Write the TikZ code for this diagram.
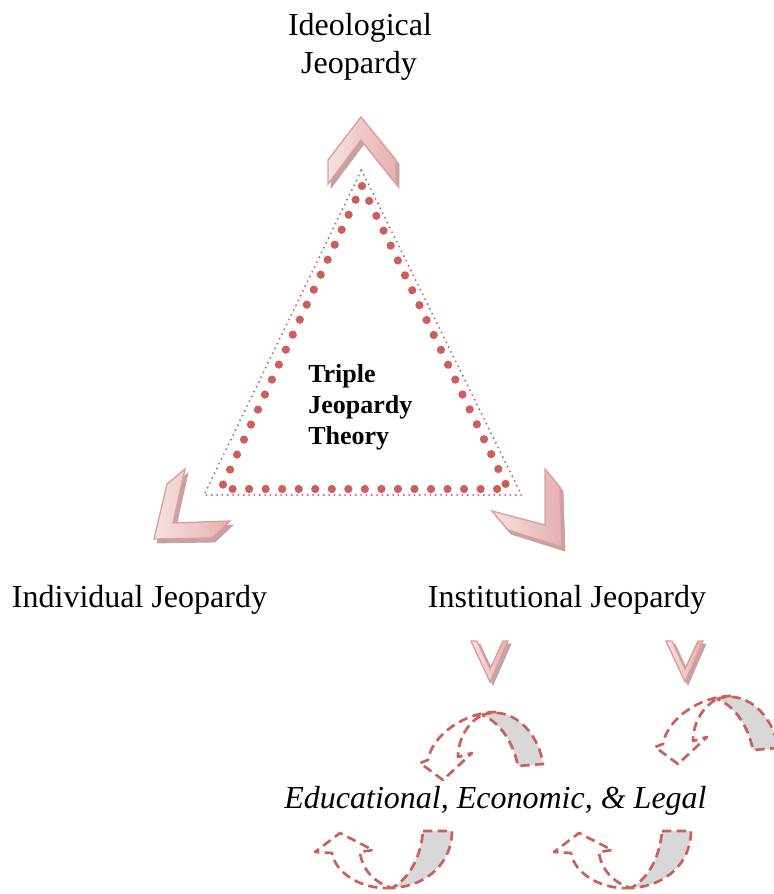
\documentclass[tikz,border=0pt]{standalone}
\usepackage{fontspec}
\setmainfont{Liberation Serif}
\definecolor{dotred}{HTML}{CD5F5B}
\definecolor{chevline}{HTML}{DC9E9C}
\definecolor{chevshadow}{HTML}{C4A3A2}
\definecolor{chevlight}{HTML}{F6E2E2}
\definecolor{chevdark}{HTML}{E6B0AF}
\definecolor{bandgray}{HTML}{D8D8D8}
\begin{document}
\begin{tikzpicture}[x=0.75pt,y=-0.75pt,
  lbl/.style={font=\fontsize{24}{28}\selectfont, inner sep=0pt, anchor=base},
  theory/.style={font=\bfseries\fontsize{19.5}{23}\selectfont, inner sep=0pt, anchor=base west},
  outerdots/.style={draw=dotred, line width=1.6pt, dash pattern=on 0pt off 4pt, line cap=round},
  bigdots/.style={draw=dotred, line width=6.2pt, dash pattern=on 0pt off 12.4pt, line cap=round},
  chevfront/.style={draw=chevline, line width=1pt, line join=miter, left color=chevlight, right color=chevdark},
  chevshade/.style={fill=chevshadow, draw=chevshadow, line width=0.6pt},
  band/.style={fill=bandgray, draw=dotred, line width=2pt, dash pattern=on 7pt off 4pt, line join=round},
  curvdash/.style={draw=dotred, line width=2pt, dash pattern=on 7pt off 4pt, line join=round}]
\useasboundingbox (0,0) rectangle (774,894);

% texts
\node[lbl] (ideo1) at (360,35) {Ideological};
\node[lbl] (ideo2) at (359,73) {Jeopardy};
\node[lbl] (indiv) at (139.5,607) {Individual Jeopardy};
\node[lbl] (inst) at (567,607) {Institutional Jeopardy};
\node[lbl, font=\itshape\fontsize{24}{28}\selectfont] (edu) at (495.5,808) {Educational, Economic, \& Legal};
\node[theory] (t1) at (308,382) {Triple};
\node[theory] (t2) at (308,413) {Jeopardy};
\node[theory] (t3) at (308,444) {Theory};

% triangle
\draw[outerdots] (361.5,170) -- (521.5,495) -- (204,495) -- cycle;
\draw[bigdots] (362,186) -- (508,489) -- (221,489) -- cycle;

% big chevrons
\begin{scope}[shift={(3,4)}]
  \path[chevshade] (361,117) -- (396,160) -- (396,184) -- (361,140) -- (328,184) -- (328,160) -- cycle;
  \path[chevshade] (154,539) -- (167,484) -- (185,469) -- (173,523) -- (230,521) -- (212,538) -- cycle;
  \path[chevshade] (545,469) -- (560,487) -- (562,547) -- (508,530) -- (492,511) -- (545,525) -- cycle;
\end{scope}
\path[chevfront] (361,117) -- (396,160) -- (396,184) -- (361,140) -- (328,184) -- (328,160) -- cycle;
\path[chevfront] (154,539) -- (167,484) -- (185,469) -- (173,523) -- (230,521) -- (212,538) -- cycle;
\path[chevfront] (545,469) -- (560,487) -- (562,547) -- (508,530) -- (492,511) -- (545,525) -- cycle;

% small chevrons
\foreach \dx in {0,195}{
  \begin{scope}[shift={(\dx,0)}]
    \path[chevshade] ([shift={(3,3)}]471,641) -- ([shift={(3,3)}]490,682) -- ([shift={(3,3)}]508,641) -- ([shift={(3,3)}]503,641) -- ([shift={(3,3)}]490,669) -- ([shift={(3,3)}]477,641) -- cycle;
    \path[chevfront] (471,641) -- (490,682) -- (508,641) -- (503,641) -- (490,669) -- (477,641) -- cycle;
  \end{scope}
}

% curved down arrows
\foreach \dx/\dy in {0/0,235/-16}{
  \begin{scope}[shift={(\dx,\dy)}]
    \path[band] (482,715) .. controls (510,705) and (538,730) .. (543,764) -- (518,766) .. controls (513,742) and (500,722) .. (482,715) -- cycle;
    \path[curvdash] (496,712) .. controls (465,712) and (432,735) .. (428,760) -- (420,763) -- (443,780) -- (472,753) -- (458,757) .. controls (458,740) and (467,723) .. (482,715);
  \end{scope}
}

% curved up arrows
\foreach \dx in {0,239}{
  \begin{scope}[shift={(\dx,0)}]
    \path[band] (423,831) -- (452,831) .. controls (452,862) and (428,886) .. (392,888) .. controls (410,878) and (421,856) .. (423,831) -- cycle;
    \path[curvdash] (392,888) .. controls (360,890) and (335,872) .. (332,853) -- (315,852) -- (340,833) -- (373,850) -- (360,852) .. controls (362,870) and (375,883) .. (392,888);
  \end{scope}
}
\end{tikzpicture}
\end{document}
